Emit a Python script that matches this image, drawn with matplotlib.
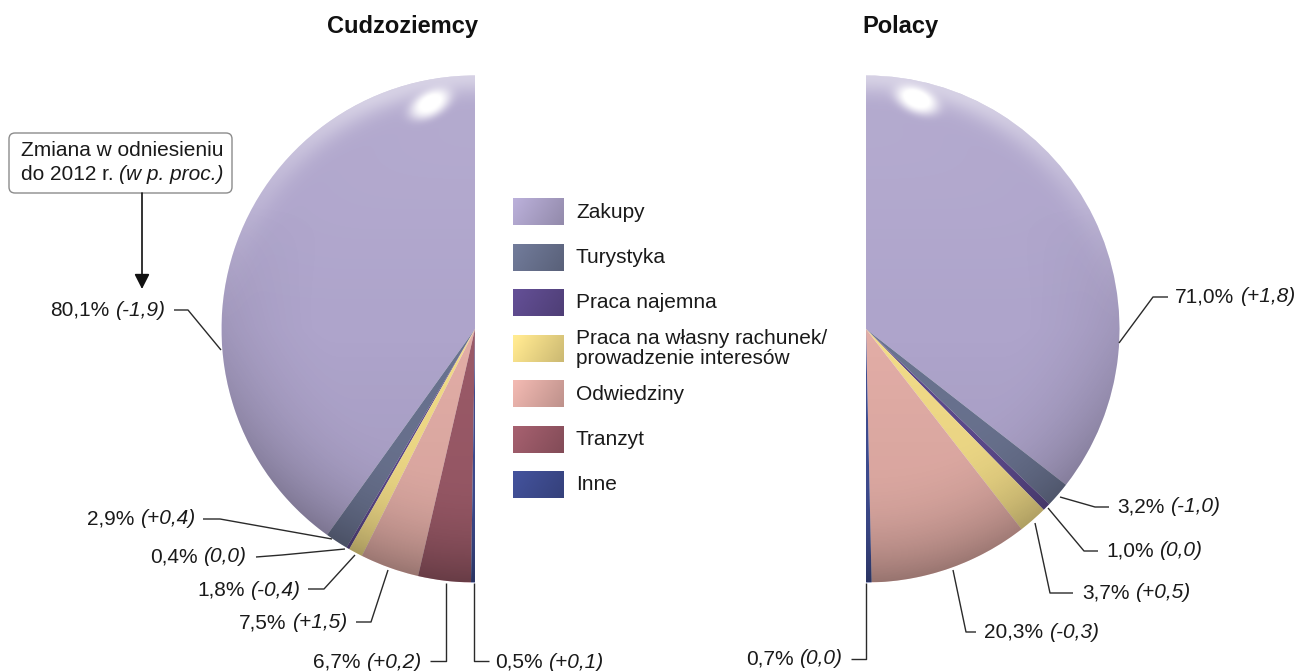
import numpy as np
import matplotlib
matplotlib.use('Agg')
import matplotlib.pyplot as plt
from matplotlib.patches import Wedge, Rectangle, FancyBboxPatch
from matplotlib.offsetbox import TextArea, HPacker, AnnotationBbox
from matplotlib.colors import to_rgb

plt.rcParams['font.family'] = ['Liberation Sans', 'DejaVu Sans']

# ---------------- data ----------------
categories = ['Zakupy', 'Turystyka', 'Praca najemna',
              'Praca na własny rachunek/\nprowadzenie interesów',
              'Odwiedziny', 'Tranzyt', 'Inne']
foreigners_share = [80.1, 2.9, 0.4, 1.8, 7.5, 6.7, 0.5]
foreigners_change = ['-1,9', '+0,4', '0,0', '-0,4', '+1,5', '+0,2', '+0,1']
poles_share = [71.0, 3.2, 1.0, 3.7, 20.3, 0.0, 0.7]
poles_change = ['+1,8', '-1,0', '0,0', '+0,5', '-0,3', None, '0,0']
titles = ['Cudzoziemcy', 'Polacy']
colors = ['#aea4cb', '#6a7390', '#5d4a8c', '#f2dc88', '#e2ada6', '#9b5a68', '#3f4d92']

# ---------------- layout (image pixel coordinates, y downward) ----------------
W, H = 1298, 671
FS = 15
def Y(y):
    return H - y

left_c = (475, 329)
right_c = (866, 329)
R = 253.5

left_lab = [
    ((165, 310), 'right', [(174, 310), (188, 310), (221, 350)]),
    ((195, 519), 'right', [(203, 519), (220, 519), (332, 539)]),
    ((246, 557), 'right', [(256, 557), (282, 555), (345, 549)]),
    ((300, 590), 'right', [(308, 589), (324, 589), (355, 555)]),
    ((347, 623), 'right', [(356, 622), (371, 622), (388, 570)]),
    ((421, 662), 'right', [(430, 661), (446, 661), (446, 583)]),
    ((495, 662), 'left', [(489, 661), (474, 661), (474, 583)]),
]
right_lab = [
    ((1175, 297), 'left', [(1168, 297), (1153, 297), (1119, 343)]),
    ((1117, 507), 'left', [(1109, 507), (1095, 507), (1060, 497)]),
    ((1106, 551), 'left', [(1098, 551), (1084, 551), (1048, 508)]),
    ((1082, 593), 'left', [(1073, 593), (1050, 593), (1035, 523)]),
    ((984, 632), 'left', [(976, 632), (966, 632), (953, 570)]),
    None,
    ((842, 659), 'right', [(851, 659), (866, 659), (866, 583)]),
]
legend_rows = [212, 257.5, 303, 348.5, 394, 439.5, 485]

fig = plt.figure(figsize=(W / 100, H / 100), dpi=100)
ax = fig.add_axes([0, 0, 1, 1])


def fmt(v):
    return f"{v:.1f}".replace('.', ',') + '%'


def mixed(x, y, normal, italic, ha, size=FS):
    ta = TextArea(normal, textprops=dict(fontsize=size, color='#1a1a1a'))
    tb = TextArea(italic, textprops=dict(fontsize=size, color='#1a1a1a', style='italic'))
    box = HPacker(children=[ta, tb], align='baseline', pad=0, sep=4)
    bx = 1.0 if ha == 'right' else 0.0
    ab = AnnotationBbox(box, (x, Y(y)), xycoords='data', frameon=False,
                        box_alignment=(bx, 0.5), pad=0, zorder=6)
    ax.add_artist(ab)


def shade(cx, cy, theta1, theta2, hl):
    cy = Y(cy)
    n = 500
    xs = np.linspace(-1, 1, n)
    X, Yg = np.meshgrid(xs, xs)
    Rr = np.hypot(X, Yg)
    rimf = np.clip((Rr - 0.55) / 0.45, 0, 1) ** 2
    dark = 0.26 * rimf * np.clip((0.5 - Yg) / 1.5, 0, 1) + 0.07 * np.clip(-Yg, 0, 1)
    dark_img = np.zeros((n, n, 4))
    dark_img[..., 3] = np.clip(dark, 0, 1)
    hx, hy, ang, a, b = hl
    ca, sa = np.cos(np.radians(ang)), np.sin(np.radians(ang))
    u = (X - hx) * ca + (Yg - hy) * sa
    v = -(X - hx) * sa + (Yg - hy) * ca
    d2 = (u / a) ** 2 + (v / b) ** 2
    light = 0.97 * np.exp(-d2 ** 1.6)
    rim = 0.45 * np.exp(-((Rr - 1.0) / 0.07) ** 2) * np.clip(Yg + 0.1, 0, 1) ** 2
    light = np.clip(light + rim + 0.10 * np.clip(Yg, 0, 1) * (1 - rimf * 0.5), 0, 1)
    light_img = np.ones((n, n, 4))
    light_img[..., 3] = light
    clip = Wedge((cx, cy), R, theta1, theta2, transform=ax.transData)
    for img in (dark_img, light_img):
        im = ax.imshow(img, extent=[cx - R, cx + R, cy - R, cy + R], origin='lower',
                       interpolation='bilinear', zorder=3)
        im.set_clip_path(clip)


# ---------------- pies ----------------
for share, center, ccw in ((foreigners_share, left_c, True), (poles_share, right_c, False)):
    vals = list(share) + [sum(share)]
    wedges, _ = ax.pie(vals, colors=colors + ['none'], startangle=90, counterclock=ccw,
                       center=(center[0], Y(center[1])), radius=R,
                       wedgeprops=dict(linewidth=0), frame=True)
    wedges[-1].set_visible(False)

shade(left_c[0], left_c[1], 90, 270, (-0.18, 0.885, 28, 0.085, 0.048))
shade(right_c[0], right_c[1], -90, 90, (0.2, 0.9, -22, 0.085, 0.048))

# ---------------- labels ----------------
for share, change, lay in ((foreigners_share, foreigners_change, left_lab),
                           (poles_share, poles_change, right_lab)):
    for v, ch, L in zip(share, change, lay):
        if L is None:
            continue
        (tx, ty), ha, path = L
        mixed(tx, ty, fmt(v), f"({ch})", ha)
        px = [p[0] for p in path]
        py = [Y(p[1]) for p in path]
        ax.plot(px, py, color='#2a2a2a', lw=1.0, zorder=5, solid_capstyle='butt')

# ---------------- titles ----------------
ax.text(402, Y(27), titles[0], ha='center', va='center', fontsize=17, fontweight='bold', color='#111111')
ax.text(900, Y(27), titles[1], ha='center', va='center', fontsize=17, fontweight='bold', color='#111111')

# ---------------- legend ----------------
gx = np.linspace(0, 1, 60)
gy = np.linspace(0, 1, 30)
GX, GY = np.meshgrid(gx, gy)
for cat, col, ry in zip(categories, colors, legend_rows):
    base = np.array(to_rgb(col))
    f = 1.08 - 0.18 * GX - 0.06 * (1 - GY)
    img = np.clip(base[None, None, :] * f[..., None], 0, 1)
    ax.imshow(img, extent=[513, 564, Y(ry) - 13.5, Y(ry) + 13.5], origin='lower',
              interpolation='bilinear', zorder=4)
    ax.text(576, Y(ry), cat, ha='left', va='center', fontsize=FS, color='#1a1a1a',
            linespacing=1.05, zorder=6)

# ---------------- note box ----------------
ax.add_patch(FancyBboxPatch((9, Y(193)), 223, 60, boxstyle='round,pad=0,rounding_size=6',
                            facecolor='white', edgecolor='#8c8c8c', lw=1.0, zorder=4))
ax.text(21, Y(150), 'Zmiana w odniesieniu', ha='left', va='center', fontsize=FS,
        color='#1a1a1a', zorder=6)
mixed(21, 175, 'do 2012 r.', '(w p. proc.)', 'left')
ax.annotate('', xy=(142, Y(289)), xytext=(142, Y(193)),
            arrowprops=dict(arrowstyle='-|>,head_length=0.75,head_width=0.38',
                            mutation_scale=12, color='#111111', lw=1.2, shrinkA=0, shrinkB=0),
            zorder=5)

ax.set_xlim(0, W)
ax.set_ylim(0, H)
ax.set_aspect('auto')
ax.axis('off')
fig.savefig('out.png', dpi=100, facecolor='white')
